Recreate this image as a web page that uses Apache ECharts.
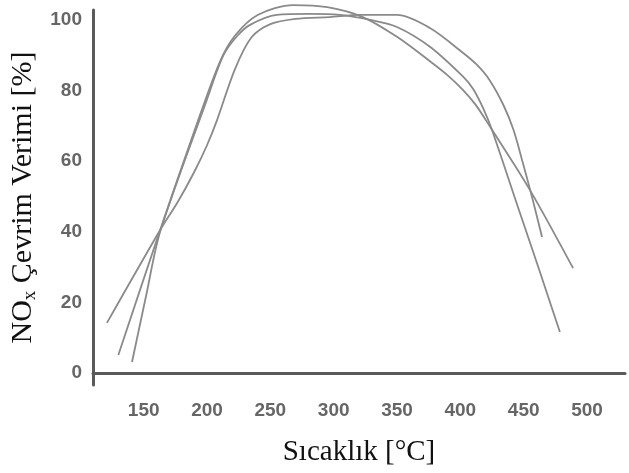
<!DOCTYPE html>
<html>
<head>
<meta charset="utf-8">
<script src="https://cdn.jsdelivr.net/npm/echarts@6/dist/echarts.min.js"></script>
<style>
  html, body { margin: 0; padding: 0; background: #fff; }
  #chart { width: 629px; height: 473px; }
</style>
</head>
<body>
<div id="chart"></div>
<script>
// Tick labels
const tempTicks = [150, 200, 250, 300, 350, 400, 450, 500];
const effTicks = [0, 20, 40, 60, 80, 100];

// Curve 1: slow rise, widest high-temperature window
const temp1 = [121, 163, 177, 190, 200, 208, 222, 235, 250, 270, 297, 321, 350, 376, 402, 413, 423, 434, 442, 449.5, 457, 464.5];
const eff1  = [14.2, 40.5, 48.5, 57.0, 64.5, 71.7, 86.0, 95.0, 98.8, 100.3, 100.8, 101.4, 101.4, 97.7, 90.7, 87.3, 83.0, 75.9, 68.8, 59.3, 49.3, 38.5];

// Curve 2: fastest rise, highest peak
const temp2 = [130, 163, 190, 210, 222, 240, 268, 295, 323, 350, 376, 390, 402, 412, 423, 455, 489];
const eff2  = [5.1, 40.5, 68.5, 88.0, 95.5, 101.4, 104.2, 103.6, 100.8, 95.2, 88.3, 84.3, 80.2, 76.0, 70.0, 51.8, 29.7];

// Curve 3: steep start, steep fall-off
const temp3 = [140.8, 152, 163, 200, 213, 224, 234, 255, 281, 305, 329, 350, 376, 402, 410, 418, 425, 445, 462, 478.6];
const eff3  = [3.1, 22.0, 40.0, 77.5, 90.0, 95.5, 98.6, 101.4, 101.7, 101.4, 100.0, 98.0, 92.4, 84.0, 80.5, 75.0, 68.8, 47.5, 29.5, 11.6];

const pairs = (xs, ys) => xs.map((x, i) => [x, ys[i]]);

const lineStyle = { color: '#8a8a8a', width: 1.8 };

const chart = echarts.init(document.getElementById('chart'), null, { renderer: 'canvas' });

chart.setOption({
  backgroundColor: '#ffffff',
  animation: false,
  grid: { left: 93, right: 4, top: 10, bottom: 88, containLabel: false },
  xAxis: {
    type: 'value',
    min: 110,
    max: 530,
    name: 'Sıcaklık [°C]',
    nameLocation: 'middle',
    nameGap: 53,
    nameTextStyle: { fontFamily: 'Liberation Serif', fontSize: 29, color: '#111' },
    axisLine: { show: true, lineStyle: { color: '#5a5a5a', width: 3 } },
    axisTick: { show: false },
    splitLine: { show: false },
    axisLabel: {
      customValues: tempTicks,
      margin: 16,
      fontFamily: 'Liberation Sans',
      fontSize: 19,
      fontWeight: 'bold',
      color: '#666'
    }
  },
  yAxis: {
    type: 'value',
    min: -3.4,
    max: 102.8,
    name: '{a|NO}{b|x}{a| Çevrim Verimi [%]}',
    nameLocation: 'middle',
    nameGap: 50,
    nameTextStyle: {
      fontFamily: 'Liberation Serif',
      color: '#111',
      rich: {
        a: { fontFamily: 'Liberation Serif', fontSize: 30, color: '#111', lineHeight: 32 },
        b: { fontFamily: 'Liberation Serif', fontSize: 19, color: '#111', lineHeight: 32, verticalAlign: 'bottom', padding: [10, 0, 0, 0] }
      }
    },
    axisLine: { show: true, lineStyle: { color: '#5a5a5a', width: 3 } },
    axisTick: { show: false },
    splitLine: { show: false },
    axisLabel: {
      customValues: effTicks,
      margin: 11,
      fontFamily: 'Liberation Sans',
      fontSize: 19,
      fontWeight: 'bold',
      color: '#666'
    }
  },
  series: [
    { type: 'line', data: pairs(temp1, eff1), smooth: 0.3, symbol: 'none', clip: false, lineStyle },
    { type: 'line', data: pairs(temp2, eff2), smooth: 0.3, symbol: 'none', clip: false, lineStyle },
    { type: 'line', data: pairs(temp3, eff3), smooth: 0.3, symbol: 'none', clip: false, lineStyle }
  ]
});
</script>
</body>
</html>
